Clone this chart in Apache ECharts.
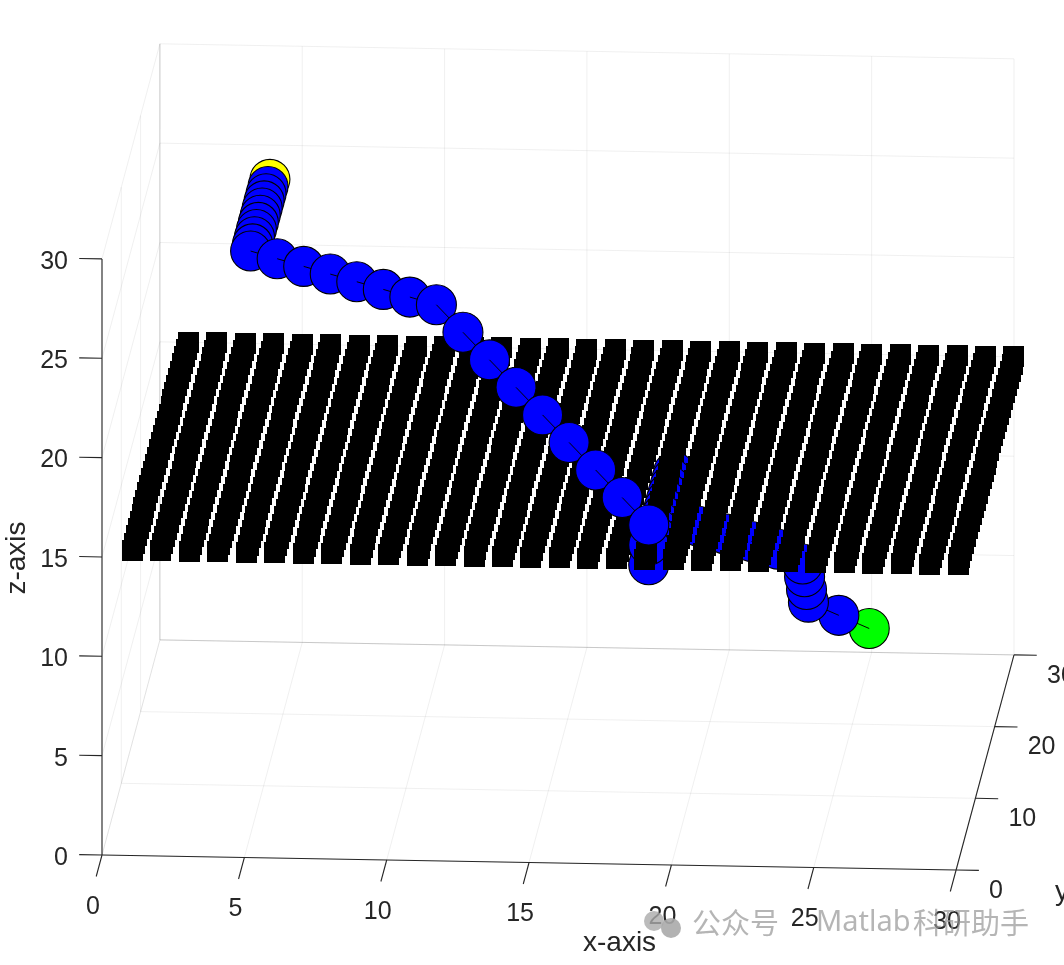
<!DOCTYPE html>
<html>
<head>
<meta charset="utf-8">
<style>html,body{margin:0;padding:0;background:#fff;overflow:hidden}#c{width:1064px;height:965px}</style>
<script src="https://cdn.jsdelivr.net/npm/echarts@6/dist/echarts.min.js"></script>
</head>
<body>
<div id="c"></div>
<script>
// ---- data (three-dimensional values) ----
var xTicks = [0, 5, 10, 15, 20, 25, 30];
var yTicks = [0, 10, 20, 30];
var zTicks = [0, 5, 10, 15, 20, 25, 30];
var planeX = [1,2,3,4,5,6,7,8,9,10,11,12,13,14,15,16,17,18,19,20,21,22,23,24,25,26,27,28,29,30];
var planeY = [1,2,3,4,5,6,7,8,9,10,11,12,13,14,15,16,17,18,19,20,21,22,23,24,25,26,27,28,29,30];
var planeZ = 15;
var pathX = [4,4,4,4,4,4,4,4,4,4,4, 5,6,7,8,9,10,11, 12,13,14,15,16,17,18,19, 19,19, 19,19,19,19,19,19,19,19,19,19,19,19,19, 19, 20,21,22,23,24, 24,24,24, 25,26];
var pathY = [28,27,26,25,24,23,22,21,20,19,18, 17,16,15,14,13,12,11, 10,9,8,7,6,5,4,3, 3,3, 4,5,6,7,8,9,10,11,12,13,14,15,16, 15, 14,13,12,11,9, 10,11,12, 13,14];
var pathZ = [24,24,24,24,24,24,24,24,24,24,24, 24,24,24,24,24,24,24, 23,22,21,20,19,18,17,16, 15,14, 14,14,14,14,14,14,14,14,14,14,14,14,14, 13, 12,12,12,12,12, 11,10,9, 8,7];

// ---- view of the 3D axes: orthographic projection (pixels per data unit) ----
var origin = [102, 855];
var ux = [28.47, 0.5], uy = [1.93, -7.17], uz = [0, -19.87];
function project(x, y, z) {
  return [origin[0] + x * ux[0] + y * uy[0] + z * uz[0],
          origin[1] + x * ux[1] + y * uy[1] + z * uz[1]];
}
function depth(x, y, z) { return 38.3 * x - 566 * y + 205 * z; }

var INK = '#262626', GRID = 'rgba(38,38,38,0.07)', EDGE = 'rgba(38,38,38,0.2)';
var FONT = '"Liberation Sans", Arial, sans-serif';

// ---- grid and box segments ----
var gridSegs = [];
function seg(a, b, c) { gridSegs.push({a: a, b: b, c: c}); }
xTicks.forEach(function (t) {
  seg([t,0,0],[t,30,0],GRID);
  seg([t,30,0],[t,30,30],t===0?EDGE:GRID);
});
yTicks.forEach(function (t) {
  seg([0,t,0],[30,t,0],t===30?EDGE:GRID);
  seg([0,t,0],[0,t,30],GRID);
});
zTicks.forEach(function (t) {
  seg([0,30,t],[30,30,t],GRID);
  seg([0,0,t],[0,30,t],GRID);
});

// ---- axis segments and tick labels ----
var axisSegs = [[[0,0,0],[30,0,0]], [[30,0,0],[30,30,0]], [[0,0,0],[0,0,30]]];
var tickLabels = [];
xTicks.forEach(function (t) {
  axisSegs.push([[t,0,0],[t,-3,0]]);
  tickLabels.push({p:[t,0,0], dx:-9, dy:52, text:String(t), align:'center'});
});
yTicks.forEach(function (t) {
  axisSegs.push([[30,t,0],[30.8,t,0]]);
  tickLabels.push({p:[30,t,0], dx:33, dy:21, text:String(t), align:'left'});
});
zTicks.forEach(function (t) {
  axisSegs.push([[0,0,t],[-0.8,0,t]]);
  tickLabels.push({p:[0,0,t], dx:-34, dy:3, text:String(t), align:'right'});
});

// ---- path items, depth sorted; each line segment lies just above its farther end ----
var n = pathX.length;
var pathItems = [];
for (var i = 0; i < n; i++) {
  var d = depth(pathX[i], pathY[i], pathZ[i]);
  var links = [];
  [i - 1, i + 1].forEach(function (j) {
    if (j >= 0 && j < n && depth(pathX[j], pathY[j], pathZ[j]) > d) links.push(j);
  });
  pathItems.push({i: i, d: d, links: links,
    color: i === 0 ? '#ffff00' : (i === n - 1 ? '#00ff00' : '#0000ff')});
}
pathItems.sort(function (a, b) { return a.d - b.d; });
var pathBelow = pathItems.filter(function (o) { return pathZ[o.i] < planeZ; });
var pathThrough = pathItems.filter(function (o) { return pathZ[o.i] === planeZ; });
var pathAbove = pathItems.filter(function (o) { return pathZ[o.i] > planeZ; });

function pathSeries(name, items, z) {
  return {
    name: name, type: 'custom', coordinateSystem: 'cartesian2d', z: z, silent: true, clip: false,
    data: items.map(function (o) { return project(pathX[o.i], pathY[o.i], pathZ[o.i]); }),
    renderItem: function (params, api) {
      var o = items[params.dataIndex];
      var c = api.coord([api.value(0), api.value(1)]);
      var kids = [{type: 'circle', shape: {cx: c[0], cy: c[1], r: 20},
        style: {fill: o.color, stroke: '#000', lineWidth: 1.1}}];
      o.links.forEach(function (j) {
        var q = api.coord(project(pathX[j], pathY[j], pathZ[j]));
        kids.push({type: 'line', shape: {x1: c[0], y1: c[1], x2: q[0], y2: q[1]},
          style: {stroke: '#000', lineWidth: 1}});
      });
      return {type: 'group', children: kids};
    }
  };
}

// plane cells split by whether they lie behind or in front of the path point crossing the plane
var crossDepth = pathThrough.length ? pathThrough[0].d : 0;
var planeFar = [], planeNear = [];
planeX.forEach(function (x) {
  planeY.forEach(function (y) {
    var p = project(x, y, planeZ);
    var cell = [Math.round(p[0] - 0.5) + 0.5, Math.round(p[1] - 0.5) + 0.5];
    (depth(x, y, planeZ) > crossDepth ? planeNear : planeFar).push(cell);
  });
});
function planeSeries(name, cells, z) {
  return {
    name: name, type: 'scatter', coordinateSystem: 'cartesian2d', z: z, silent: true,
    symbol: 'rect', symbolSize: 21, itemStyle: {color: '#000000', opacity: 1},
    large: false, data: cells
  };
}

function segSeries(name, list, style, z) {
  return {
    name: name, type: 'custom', coordinateSystem: 'cartesian2d', z: z, silent: true, clip: false,
    data: list.map(function (s, k) { return [k, 0]; }),
    renderItem: function (params, api) { return style(list[params.dataIndex], api); }
  };
}

var chart = echarts.init(document.getElementById('c'), null, {renderer: 'canvas'});
chart.setOption({
  animation: false,
  backgroundColor: '#ffffff',
  grid: {left: 0, top: 0, right: 0, bottom: 0, containLabel: false},
  xAxis: {type: 'value', min: 0, max: 1064, show: false},
  yAxis: {type: 'value', min: 0, max: 965, inverse: true, show: false},
  tooltip: {show: false},
  legend: {show: false},
  series: [
    segSeries('grid', gridSegs, function (s, api) {
      var a = api.coord(project.apply(null, s.a)), b = api.coord(project.apply(null, s.b));
      return {type: 'line', shape: {x1: a[0], y1: a[1], x2: b[0], y2: b[1]},
        style: {stroke: s.c, lineWidth: 1}};
    }, 1),
    segSeries('axes', axisSegs, function (s, api) {
      var a = api.coord(project.apply(null, s[0])), b = api.coord(project.apply(null, s[1]));
      return {type: 'line', shape: {x1: a[0], y1: a[1], x2: b[0], y2: b[1]},
        style: {stroke: INK, lineWidth: 1.1}};
    }, 2),
    segSeries('tick labels', tickLabels, function (s, api) {
      var a = api.coord(project.apply(null, s.p));
      return {type: 'text', style: {x: a[0] + s.dx, y: a[1] + s.dy, text: s.text,
        fill: INK, font: '25px ' + FONT, align: s.align, verticalAlign: 'middle'}};
    }, 3),
    pathSeries('path below plane', pathBelow, 4),
    planeSeries('obstacle plane (far)', planeFar, 5),
    pathSeries('path crossing plane', pathThrough, 6),
    planeSeries('obstacle plane (near)', planeNear, 7),
    pathSeries('path above plane', pathAbove, 8)
  ],
  graphic: [
    {type: 'text', z: 20, left: 583, top: 929, style: {text: 'x-axis', fill: INK, font: '28px ' + FONT}},
    {type: 'text', z: 20, left: 1055, top: 878, style: {text: 'y', fill: INK, font: '28px ' + FONT}},
    {type: 'text', z: 20, x: 17, y: 558, rotation: Math.PI / 2,
      style: {text: 'z-axis', fill: INK, font: '28px ' + FONT, align: 'center', verticalAlign: 'middle'}},
    {type: 'circle', z: 21, shape: {cx: 654, cy: 921, r: 10}, style: {fill: 'rgba(170,170,170,0.8)'}},
    {type: 'circle', z: 21, shape: {cx: 671, cy: 928, r: 10}, style: {fill: 'rgba(170,170,170,0.9)'}},
    {type: 'text', z: 22, left: 692, top: 908,
      style: {text: '公众号', fill: 'rgba(150,150,150,0.7)', font: '29px "Noto Sans CJK SC"'}},
    {type: 'text', z: 22, left: 816, top: 908,
      style: {text: 'Matlab', fill: 'rgba(150,150,150,0.7)', font: '29px "Noto Sans"'}},
    {type: 'text', z: 22, left: 913, top: 908,
      style: {text: '科研助手', fill: 'rgba(150,150,150,0.7)', font: '29px "Noto Sans CJK SC"'}}
  ]
});
</script>
</body>
</html>
